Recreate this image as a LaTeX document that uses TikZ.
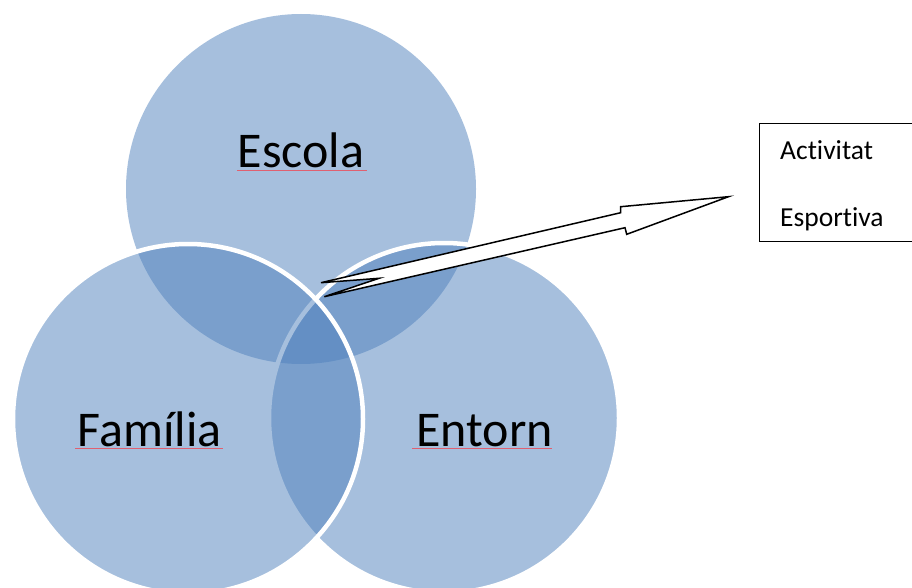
\documentclass[tikz,border=0pt]{standalone}
\usepackage{fontspec}
\setmainfont{Carlito}[Ligatures={NoCommon,NoRequired,NoContextual}]
\definecolor{vennblue}{HTML}{4F81BD}
\definecolor{squiggle}{HTML}{E06070}
\begin{document}
\begin{tikzpicture}[x=1pt,y=-1pt,
  venn/.style={circle, minimum size=350pt, inner sep=0pt, outer sep=0pt, fill=vennblue, fill opacity=0.5, draw opacity=1},
  vennedge/.style={venn, draw=white, line width=4.5pt},
  bigword/.style={anchor=base west, inner sep=0pt, font=\fontsize{50}{60}\selectfont, text=black},
  smallword/.style={anchor=base west, inner sep=0pt, font=\fontsize{27.5}{33}\selectfont, text=black},
  spell/.style={draw=squiggle, line width=0.8pt}]
\useasboundingbox (0,0) rectangle (912,588);
\clip (0,0) rectangle (912,588);
\fill[white] (0,0) rectangle (912,588);
% circles
\node[venn] (cEscola) at (301,189) {};
\node[vennedge] (cEntorn) at (444,418) {};
\node[vennedge] (cFamilia) at (188,419) {};
% labels
\node[bigword] (tEscola) at (237.5,167.5) {Escola};
\node[bigword] (tFamilia) at (77.5,446.5) {Família};
\node[bigword] (tEntorn) at (416,446.5) {Entorn};
\draw[spell] (237,170.8) -- (367,170.8);
\draw[spell] (75,448.6) -- (223,448.6);
\draw[spell] (412,448.6) -- (552,448.6);
% box
\node[draw=black, line width=1.3pt, anchor=north west, minimum width=170pt, minimum height=117.5pt, inner sep=0pt] (box) at (758.5,123) {};
\node[smallword] (tAct) at (780,160) {Activitat};
\node[smallword] (tEsp) at (780,226.5) {Esportiva};
% block arrow
\coordinate (tail) at (321,282.7);
\coordinate (tip) at (728.5,196.7);
\draw[black, fill=white, line width=1.5pt, line join=miter]
  (tail) -- (620.7,212.7) -- (620.7,206.7) -- (tip) -- (626.7,234.3)
  -- (625,227.7) -- (324.3,296.7) -- (379,278.3) -- cycle;
\end{tikzpicture}
\end{document}
